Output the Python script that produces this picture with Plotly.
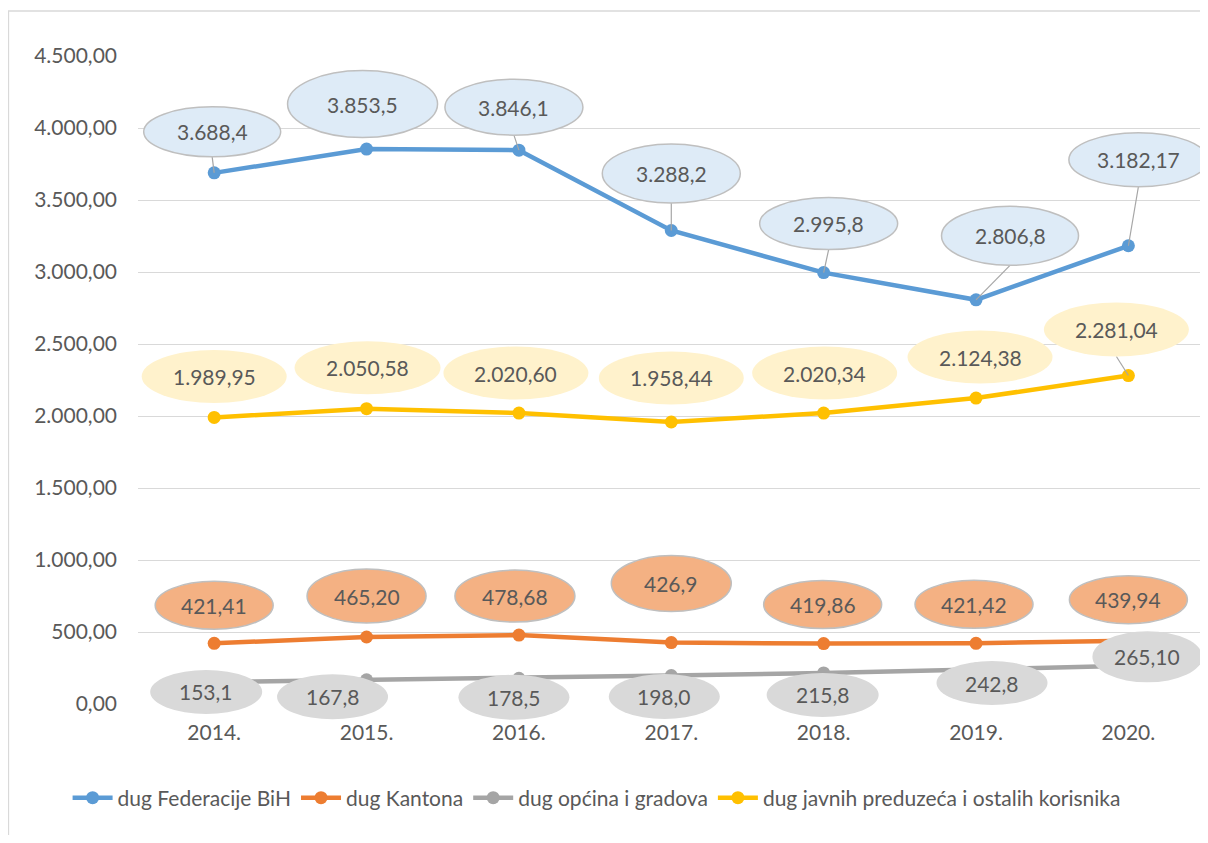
import plotly.graph_objects as go

years = ["2014.", "2015.", "2016.", "2017.", "2018.", "2019.", "2020."]
fed = [3688.4, 3853.5, 3846.1, 3288.2, 2995.8, 2806.8, 3182.17]
kant = [421.41, 465.20, 478.68, 426.9, 419.86, 421.42, 439.94]
opc = [153.1, 167.8, 178.5, 198.0, 215.8, 242.8, 265.10]
jav = [1989.95, 2050.58, 2020.60, 1958.44, 2020.34, 2124.38, 2281.04]

fed_dec = [1, 1, 1, 1, 1, 1, 2]
kant_dec = [2, 2, 2, 1, 2, 2, 2]
opc_dec = [1, 1, 1, 1, 1, 1, 2]
jav_dec = [2, 2, 2, 2, 2, 2, 2]

names = ["dug Federacije BiH", "dug Kantona", "dug općina i gradova",
         "dug javnih preduzeća i ostalih korisnika"]

Y_MAX = 4500
N = len(years)
X_RANGE = [-0.5, 6.47]
FONT = "Lato"
TXT = "#595959"

def fmt(v, d):
    s = f"{v:,.{d}f}"
    return s.replace(",", "X").replace(".", ",").replace("X", ".")

# label placement (pixel offsets dx, dy-up, ellipse w, h)
fed_lab = [(-2, 41, 137, 50), (-4, 45, 150, 67), (-5, 43, 138, 56), (0, 57, 138, 59),
           (5, 49, 138, 52), (34, 64, 137, 59), (10, 86, 139, 54)]
jav_lab = [(0, 41, 145, 53), (1, 41, 146, 53), (-3, 40, 145, 53), (0, 44, 145, 53),
           (1, 40, 145, 53), (4, 41, 145, 53), (-12, 46, 145, 54)]
kant_lab = [(0, 38, 118, 48), (0, 41, 119, 54), (-4, 39, 120, 52), (0, 59, 120, 56),
            (-1, 39, 118, 48), (-2, 39, 118, 48), (0, 41, 118, 48)]
opc_lab = [(-8, -10, 112, 44), (-34, -17, 111, 45), (-5, -19, 111, 45), (-7, -21, 111, 45),
           (-1, -22, 112, 44), (16, -14, 111, 44), (19, 9, 110, 51)]
fed_leader = [0, 2, 3, 4, 5, 6]
jav_leader = [6]

series = [
    (names[0], fed, fed_dec, "#5B9BD5", fed_lab, fed_leader, "#DEEBF7", "#BFBFBF"),
    (names[1], kant, kant_dec, "#ED7D31", kant_lab, [], "#F4B183", "#BFBFBF"),
    (names[2], opc, opc_dec, "#A5A5A5", opc_lab, [], "#D9D9D9", None),
    (names[3], jav, jav_dec, "#FFC000", jav_lab, jav_leader, "#FFF2CC", None),
]

fig = go.Figure()
for name, vals, dec, col, lab, lead, fill, border in series:
    fig.add_trace(go.Scatter(x=years, y=vals, name=name, mode="lines+markers",
                             line=dict(color=col, width=4.5),
                             marker=dict(color=col, size=13)))

shapes = []
annotations = []
for name, vals, dec, col, lab, lead, fill, border in series:
    for i in lead:
        dx, dy, w, h = lab[i]
        shapes.append(dict(type="line", xref="x", yref="y", xsizemode="pixel", ysizemode="pixel",
                           xanchor=i, yanchor=vals[i], x0=0, y0=0, x1=dx, y1=dy - h / 2,
                           line=dict(color="#A6A6A6", width=1.2), layer="above"))
for name, vals, dec, col, lab, lead, fill, border in series:
    for i, v in enumerate(vals):
        dx, dy, w, h = lab[i]
        shapes.append(dict(type="circle", xref="x domain", yref="y domain",
                           xsizemode="pixel", ysizemode="pixel",
                           xanchor=(i - X_RANGE[0]) / (X_RANGE[1] - X_RANGE[0]), yanchor=v / Y_MAX,
                           x0=dx - w / 2, x1=dx + w / 2, y0=dy - h / 2, y1=dy + h / 2,
                           fillcolor=fill,
                           line=dict(color=border if border else fill, width=1.5 if border else 0),
                           layer="above"))
        annotations.append(dict(x=i, y=v, xref="x", yref="y", text=fmt(v, dec[i]),
                                showarrow=False, xshift=dx, yshift=dy,
                                font=dict(family=FONT, size=21, color=TXT)))

# outer chart border
shapes.append(dict(type="rect", xref="paper", yref="paper", xsizemode="pixel", ysizemode="pixel",
                   xanchor=0, yanchor=1, x0=-129.5, x1=1100, y0=45, y1=-850,
                   line=dict(color="#D9D9D9", width=1.3), fillcolor="rgba(0,0,0,0)", layer="below"))

fig.update_layout(
    width=1192, height=827,
    margin=dict(l=130, r=0, t=48, b=131),
    paper_bgcolor="white", plot_bgcolor="white",
    separators=",.",
    font=dict(family=FONT, size=21, color=TXT),
    shapes=shapes, annotations=annotations,
    showlegend=True,
    legend=dict(orientation="h", xref="container", yref="container",
                x=0.05, xanchor="left", y=0.0447, yanchor="middle",
                itemwidth=40,
                font=dict(family=FONT, size=21, color=TXT), bgcolor="rgba(0,0,0,0)"),
)
fig.update_xaxes(type="category", range=X_RANGE, showgrid=False, showline=False,
                 ticks="", ticklabelstandoff=14, tickfont=dict(family=FONT, size=21, color=TXT))
fig.update_yaxes(range=[0, Y_MAX], dtick=500, tickformat=",.2f", showgrid=True,
                 gridcolor="#D9D9D9", gridwidth=1.3, zeroline=False, showline=False,
                 ticks="", ticklabelstandoff=20, tickfont=dict(family=FONT, size=21, color=TXT))

fig.write_html("out.html")
